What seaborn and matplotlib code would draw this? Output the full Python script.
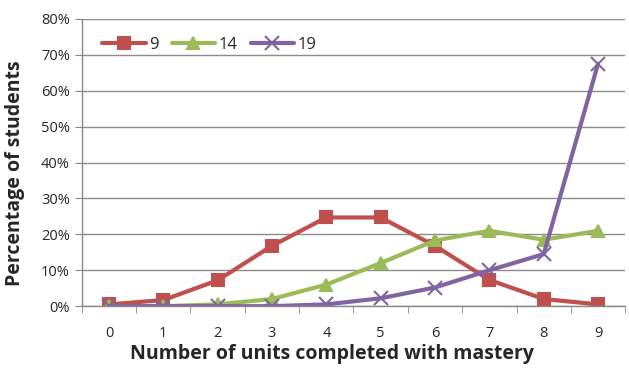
import seaborn as sns
import pandas as pd
import numpy as np
import matplotlib.pyplot as plt
from matplotlib.ticker import PercentFormatter, FixedLocator

units = [0, 1, 2, 3, 4, 5, 6, 7, 8, 9]
s9 = [0.5, 1.7, 7.2, 16.8, 24.7, 24.7, 16.8, 7.3, 2.0, 0.5]
s14 = [0.0, 0.0, 0.5, 2.0, 6.0, 12.0, 18.3, 21.0, 18.5, 21.0]
s19 = [0.0, 0.0, 0.0, 0.0, 0.5, 2.2, 5.2, 10.0, 14.5, 67.5]

df = pd.DataFrame({'units': units * 3,
                   'pct': s9 + s14 + s19,
                   'group': ['9'] * 10 + ['14'] * 10 + ['19'] * 10})

sns.set_style('white')
plt.rcParams['font.family'] = ['Open Sans', 'DejaVu Sans']

fig = plt.figure(figsize=(6.29, 3.78), dpi=100)
ax = fig.add_axes([0.130, 0.19, 0.864, 0.76])

colors = {'9': '#C0504D', '14': '#9BBB59', '19': '#8064A2'}
markers = {'9': 's', '14': '^', '19': 'x'}
for g in ['9', '14', '19']:
    sub = df[df['group'] == g]
    sns.lineplot(data=sub, x='units', y='pct', ax=ax, color=colors[g],
                 marker=markers[g], markersize=9 if g != '19' else 10,
                 markeredgewidth=1.5, markeredgecolor=colors[g],
                 linewidth=3, label=g)

ax.set_xlim(-0.5, 9.5)
ax.set_ylim(0, 80)
ax.set_xticks(units)
ax.xaxis.set_minor_locator(FixedLocator(np.arange(-0.5, 10, 1)))
ax.tick_params(axis='x', which='major', length=0, labelsize=10.5, pad=14)
ax.tick_params(axis='x', which='minor', length=5, color='#888888', direction='out', bottom=True)
ax.set_yticks(np.arange(0, 81, 10))
ax.yaxis.set_major_formatter(PercentFormatter(decimals=0))
ax.tick_params(axis='y', length=5, color='#888888', direction='out', left=True, labelsize=10.5)
ax.yaxis.grid(True, color='#8c8c8c', linewidth=1)
ax.set_axisbelow(True)
for s in ['top', 'right']:
    ax.spines[s].set_visible(False)
for s in ['left', 'bottom']:
    ax.spines[s].set_color('#888888')
    ax.spines[s].set_linewidth(1)

ax.set_xlabel('Number of units completed with mastery', fontsize=14, fontweight='bold')
ax.set_ylabel('Percentage of students', fontsize=14, fontweight='bold')
ax.xaxis.set_label_coords(0.46, -0.13)
ax.yaxis.set_label_coords(-0.105, 0.463)

ax.legend(loc='upper left', bbox_to_anchor=(0.01, 0.99), ncol=3, frameon=False,
          fontsize=12, handlelength=2.6, columnspacing=0.8, handletextpad=0.2)

fig.savefig('out.png', dpi=100)
